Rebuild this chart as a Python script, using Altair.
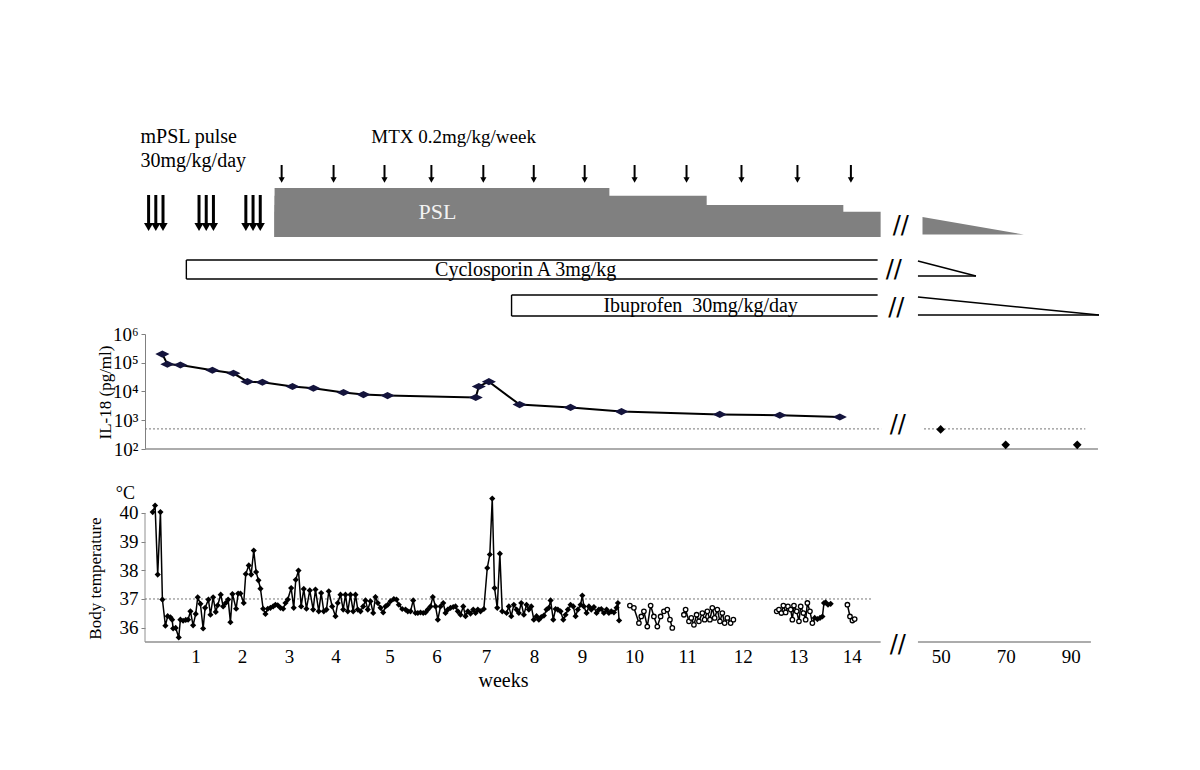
import altair as alt
import pandas as pd

SERIF = "Liberation Serif"
X_DOMAIN = [0, 19]
PLOT_W = 958
FU_ORIGIN, FU_SLOPE = 15.78, 0.0645   # broken axis: follow-up week -> display position


def fu_pos(w):
    return FU_ORIGIN + (w - 50) * FU_SLOPE


# ---------------- treatment schematic ----------------
mpsl_pulse_days = [0.5, 1.5, 2.5, 7.5, 8.5, 9.5, 14, 15, 16]
mtx_weeks = [2.71, 3.74, 4.75, 5.68, 6.71, 7.71, 8.72, 9.71, 10.74, 11.83, 12.94, 14.0]
psl_start = 2.57
psl_step_end = [9.21, 11.14, 13.85, 14.59]
psl_level = [49, 41.2, 32.1, 25.3]
psl_taper_x = [15.42, 17.43]
psl_taper_level = [17.5, 0]
cyclo_start, cyclo_end = 0.82, 14.53
cyclo_taper = [15.33, 16.48]
ibu_start, ibu_end = 7.27, 14.53
ibu_taper = [15.33, 18.92]

# ---------------- IL-18 ----------------
il18_weeks = [0.345, 0.444, 0.702, 1.337, 1.754, 2.032, 2.329, 2.925, 3.341, 3.937, 4.333,
              4.810, 6.56, 6.62, 6.82, 7.43, 8.44, 9.45, 11.40, 12.59, 13.78]
il18_vals = [2.0e5, 8.9e4, 8.4e4, 5.5e4, 4.3e4, 2.2e4, 2.1e4, 1.5e4, 1.3e4, 9.2e3, 7.8e3,
             7.2e3, 6.2e3, 1.5e4, 2.2e4, 3.5e3, 2.8e3, 2.0e3, 1.6e3, 1.5e3, 1.3e3]
il18_fu_weeks = [50, 70, 92]
il18_fu_vals = [480, 140, 140]
il18_ref = 500

# ---------------- body temperature ----------------
tw_main = [0.153, 0.200, 0.252, 0.306, 0.345, 0.405, 0.450, 0.504, 0.538, 0.558,
           0.609, 0.669, 0.702, 0.756, 0.808, 0.855, 0.901, 0.954, 1.006, 1.046,
           1.099, 1.153, 1.192, 1.258, 1.298, 1.351, 1.403, 1.442, 1.502, 1.550,
           1.601, 1.649, 1.694, 1.734, 1.808, 1.847, 1.893, 1.958, 1.998, 2.058,
           2.105, 2.157, 2.204, 2.250, 2.290, 2.343, 2.389, 2.435, 2.488, 2.542,
           2.587, 2.633, 2.687, 2.740, 2.786, 2.831, 2.899, 2.950, 2.990, 3.044,
           3.097, 3.149, 3.202, 3.268,
           3.335, 3.381, 3.446, 3.494, 3.546, 3.599, 3.645, 3.712, 3.778, 3.823,
           3.877, 3.931, 3.976, 4.022, 4.075, 4.129, 4.175, 4.220, 4.274, 4.327,
           4.373, 4.419, 4.472, 4.526, 4.571, 4.617, 4.671, 4.724, 4.770, 4.815,
           4.869, 4.935, 4.988, 5.034, 5.101, 5.167, 5.212, 5.266, 5.319, 5.365,
           5.411, 5.464, 5.518, 5.563, 5.609, 5.663, 5.708, 5.762, 5.808, 5.861,
           5.915, 5.960, 6.006, 6.060, 6.113, 6.159, 6.204, 6.258, 6.312, 6.357,
           6.403, 6.456, 6.510, 6.556, 6.601, 6.655, 6.720,
           6.788, 6.839, 6.887, 6.933, 6.986, 7.038, 7.085,
           7.171, 7.216, 7.264, 7.315, 7.369, 7.415, 7.462, 7.514, 7.567, 7.613,
           7.661, 7.712, 7.766, 7.811, 7.859, 7.911, 7.964, 8.010, 8.044, 8.097,
           8.143, 8.188, 8.242, 8.296, 8.341, 8.387, 8.440, 8.494, 8.540, 8.585,
           8.639, 8.673, 8.704, 8.758, 8.804, 8.851, 8.903, 8.956, 9.002, 9.050,
           9.101, 9.155, 9.200, 9.248, 9.300, 9.353, 9.379, 9.403]
tc_main = [40.03, 40.26, 37.85, 40.03, 36.98, 36.07, 36.40, 36.36, 36.28, 35.97,
           35.99, 35.66, 36.28, 36.24, 36.27, 36.28, 36.57, 36.08, 36.48, 37.06,
           36.83, 35.97, 36.69, 36.98, 36.45, 37.06, 36.55, 36.78, 37.15, 36.74,
           36.86, 36.98, 36.19, 37.17, 36.66, 37.19, 37.19, 36.86, 37.87, 38.17,
           37.85, 38.69, 37.94, 37.65, 37.36, 36.66, 36.48, 36.66, 36.69, 36.74,
           36.80, 36.78, 36.69, 36.66, 36.86, 36.98, 37.38, 36.69, 37.67, 37.99,
           36.74, 37.35, 36.66, 37.30,
           36.63, 37.33, 36.57, 37.21, 36.57, 36.63, 37.27, 36.74, 36.40, 36.86,
           37.15, 36.63, 37.15, 36.57, 37.15, 36.57, 37.15, 36.63, 36.57, 36.74,
           36.95, 36.63, 36.92, 36.51, 37.07, 36.86, 36.69, 36.53, 36.74, 36.80,
           36.92, 37.00, 36.98, 36.80, 36.65, 36.63, 36.57, 36.57, 36.95, 36.51,
           36.51, 36.53, 36.51, 36.53, 36.63, 36.74, 37.07, 36.74, 36.28, 36.74,
           36.86, 36.51, 36.63, 36.69, 36.72, 36.74, 36.57, 36.45, 36.74, 36.40,
           36.57, 36.49, 36.63, 36.51, 36.63, 36.57, 36.65,
           38.08, 38.55, 40.50, 37.38, 36.69, 38.58, 36.57,
           36.51, 36.74, 36.40, 36.80, 36.63, 36.51, 36.86, 36.45, 36.80, 36.63,
           36.74, 36.28, 36.40, 36.28, 36.37, 36.42, 36.63, 36.69, 36.95, 36.28,
           36.65, 36.63, 36.57, 36.28, 36.45, 36.63, 36.80, 36.74, 36.40, 36.63,
           36.80, 37.12, 36.74, 36.51, 36.74, 36.63, 36.72, 36.51, 36.63, 36.65,
           36.51, 36.63, 36.51, 36.57, 36.53, 36.69, 36.86, 36.25]
tw_a = [9.617, 9.696, 9.796, 9.843, 9.895, 9.962, 10.028, 10.093, 10.161, 10.226,
        10.292, 10.359, 10.411, 10.458]
tc_a = [36.77, 36.69, 36.16, 36.39, 36.57, 36.04, 36.77, 36.39, 36.04, 36.39,
        36.57, 36.63, 36.28, 35.99]
tw_b = [10.688, 10.722, 10.788, 10.835, 10.887, 10.940, 10.986, 11.054, 11.099, 11.153,
        11.204, 11.252, 11.298, 11.351, 11.403, 11.450, 11.496, 11.550, 11.615, 11.669]
tc_b = [36.45, 36.63, 36.22, 36.34, 36.10, 36.45, 36.22, 36.51, 36.28, 36.57,
        36.28, 36.69, 36.34, 36.63, 36.22, 36.51, 36.16, 36.34, 36.16, 36.28]
tw_c = [12.528, 12.573, 12.621, 12.661, 12.706, 12.752, 12.806, 12.839, 12.871, 12.925,
        12.970, 13.004, 13.058, 13.103, 13.137, 13.188, 13.236]
tc_c = [36.57, 36.63, 36.51, 36.77, 36.53, 36.74, 36.63, 36.28, 36.77, 36.57,
        36.22, 36.74, 36.51, 36.28, 36.86, 36.57, 36.16]
tw_e = [13.282, 13.335, 13.387, 13.435, 13.466, 13.500, 13.546, 13.599]
tc_e = [36.34, 36.30, 36.34, 36.39, 36.86, 36.88, 36.80, 36.83]
tw_d = [13.931, 13.982, 14.030, 14.075]
tc_d = [36.80, 36.39, 36.25, 36.30]
temp_ref = 37.0

# week labels as placed in the original figure (label k sits at this position)
week_label_at = [1.000, 1.923, 2.855, 3.778, 4.849, 5.782, 6.764, 7.716, 8.669, 9.700,
                 10.752, 11.853, 12.954, 14.016]
fu_ticks = [50, 70, 90]

# ====================================================================
xsc = alt.Scale(domain=X_DOMAIN, nice=False, zero=False)


def XE(field, axis=None):
    return alt.X(field, type="quantitative", scale=xsc, axis=axis, title=None)


def txt(df, yenc, size=19, align="center", color="black", font=SERIF, **kw):
    return alt.Chart(df).mark_text(font=font, fontSize=size, align=align, baseline="middle",
                                   color=color, **kw).encode(x=XE("x"), y=yenc("y"), text="t:N")


# ---------------- panel 1: treatment ----------------
y1sc = alt.Scale(domain=[0, 214], reverse=True, nice=False, zero=False)


def Y1(field):
    return alt.Y(field, type="quantitative", scale=y1sc, axis=None)


PSL_BASE = 117
psl_df = pd.DataFrame({"x": [psl_start] * 4, "x2": psl_step_end,
                       "y": [PSL_BASE - l for l in psl_level], "y2": [PSL_BASE] * 4})
psl = alt.Chart(psl_df).mark_rect(color="#808080").encode(x=XE("x"), x2="x2", y=Y1("y"), y2="y2")

taper_df = pd.DataFrame({"x": psl_taper_x, "y": [PSL_BASE - 2.5 - l for l in psl_taper_level],
                         "y2": [PSL_BASE - 2.5] * 2})
taper = alt.Chart(taper_df).mark_area(color="#808080").encode(x=XE("x"), y=Y1("y"), y2="y2")

mtx_df = pd.DataFrame({"x": mtx_weeks, "y": 45, "y2": 60})
mtx_shaft = alt.Chart(mtx_df).mark_rule(color="black", strokeWidth=2).encode(
    x=XE("x"), y=Y1("y"), y2="y2")
mtx_head = alt.Chart(mtx_df).mark_point(shape="triangle-down", filled=True, size=38,
                                        color="black", opacity=1).encode(x=XE("x"), y=Y1("y2"))

pulse_df = pd.DataFrame({"x": [d / 7 for d in mpsl_pulse_days], "y": 75, "y2": 104, "yh": 107})
pulse_shaft = alt.Chart(pulse_df).mark_rule(color="black", strokeWidth=3).encode(
    x=XE("x"), y=Y1("y"), y2="y2")
pulse_head = alt.Chart(pulse_df).mark_point(shape="triangle-down", filled=True, size=85,
                                            color="black", opacity=1).encode(x=XE("x"), y=Y1("yh"))

seg_rows = [
    (cyclo_start, cyclo_start, 140, 159), (cyclo_start, cyclo_end, 140, 140),
    (cyclo_start, cyclo_end, 159, 159),
    (cyclo_taper[0], cyclo_taper[1], 141, 156), (cyclo_taper[0], cyclo_taper[1], 156, 156),
    (ibu_start, ibu_start, 175, 196), (ibu_start, ibu_end, 175, 175), (ibu_start, ibu_end, 196, 196),
    (ibu_taper[0], ibu_taper[1], 177, 195), (ibu_taper[0], ibu_taper[1], 195, 195),
]
seg_df = pd.DataFrame(seg_rows, columns=["x", "x2", "y", "y2"])
segs = alt.Chart(seg_df).mark_rule(color="black", strokeWidth=1.4).encode(
    x=XE("x"), x2="x2", y=Y1("y"), y2="y2")

t_left = txt(pd.DataFrame({"t": ["mPSL pulse", "30mg/kg/day"], "x": [-0.09, -0.09], "y": [17, 41]}),
             Y1, size=20, align="left")
t_mtx = txt(pd.DataFrame({"t": ["MTX 0.2mg/kg/week"], "x": [6.12], "y": [17]}), Y1, size=19)
t_psl = txt(pd.DataFrame({"t": ["PSL"], "x": [5.8], "y": [92]}), Y1, size=22, color="#f2f2f2")
t_drugs = txt(pd.DataFrame({"t": ["Cyclosporin A 3mg/kg", "Ibuprofen\u00a0 30mg/kg/day"],
                            "x": [7.55, 11.02], "y": [150, 186]}), Y1, size=20)
t_br1 = txt(pd.DataFrame({"t": ["//", "//", "//"], "x": [14.99, 14.85, 14.9], "y": [106, 150, 188]}),
            Y1, size=24, font="DejaVu Sans")

p1 = alt.layer(psl, taper, mtx_shaft, mtx_head, pulse_shaft, pulse_head, segs,
               t_left, t_mtx, t_psl, t_drugs, t_br1).properties(width=PLOT_W, height=214)

# ---------------- panel 2: IL-18 ----------------
sup = "datum.value > 5e5 ? '10⁶' : datum.value > 5e4 ? '10⁵' : datum.value > 5e3 ? '10⁴' : datum.value > 500 ? '10³' : '10²'"
y2axis = alt.Axis(values=[1e2, 1e3, 1e4, 1e5, 1e6], labelExpr=sup, grid=False,
                  domainColor="#808080", tickColor="#808080", tickSize=4, labelPadding=3,
                  labelFontSize=19, title="IL-18 (pg/ml)", titleFontSize=17, titleFontWeight="normal",
                  titleX=-40, titleY=58, titleBaseline="middle", titleAlign="center")
y2sc = alt.Scale(type="log", domain=[100, 1e6], nice=False)


def Y2(field):
    return alt.Y(field, type="quantitative", scale=y2sc, axis=y2axis)


il_df = pd.DataFrame({"x": il18_weeks, "y": il18_vals})
il_line = alt.Chart(il_df).mark_line(color="black", strokeWidth=2).encode(x=XE("x"), y=Y2("y"))
il_pts = alt.Chart(il_df).mark_point(shape="M-1,0L0,-0.5L1,0L0,0.5Z", filled=True, size=200,
                                     color="#14143c", opacity=1).encode(x=XE("x"), y=Y2("y"))
fu_df = pd.DataFrame({"w": il18_fu_weeks, "y": il18_fu_vals})
fu_df["x"] = fu_pos(fu_df["w"])
il_fu = alt.Chart(fu_df).mark_point(shape="diamond", filled=True, size=75, color="black",
                                    opacity=1).encode(x=XE("x"), y=Y2("y"))
ref2_df = pd.DataFrame({"x": [0, 15.45], "x2": [14.6, 18.65], "y": [il18_ref] * 2})
il_ref = alt.Chart(ref2_df).mark_rule(color="#777777", strokeWidth=1, strokeDash=[2, 2]).encode(
    x=XE("x"), x2="x2", y=Y2("y"))
base2_df = pd.DataFrame({"x": [0], "x2": [18.9], "y": [100]})
il_base = alt.Chart(base2_df).mark_rule(color="#909090", strokeWidth=1.3).encode(
    x=XE("x"), x2="x2", y=Y2("y"))
t_br2 = txt(pd.DataFrame({"t": ["//"], "x": [14.93], "y": [684]}), Y2, size=24, font="DejaVu Sans")

p2 = alt.layer(il_base, il_ref, il_line, il_pts, il_fu, t_br2).properties(width=PLOT_W, height=115)

spacer = alt.Chart(pd.DataFrame({"a": [0]})).mark_point(opacity=0).encode(
    x=alt.X("a:Q", axis=None), y=alt.Y("a:Q", axis=None)).properties(width=PLOT_W, height=41)

# ---------------- panel 3: body temperature ----------------
fu_tick_pos = [round(fu_pos(w), 4) for w in fu_ticks]
x3axis = alt.Axis(values=week_label_at + fu_tick_pos,
                  labelExpr=(f"datum.value > 15 ? format(round(50 + (datum.value - {FU_ORIGIN}) / {FU_SLOPE}), 'd')"
                             " : format(round(datum.value), 'd')"),
                  domain=False, ticks=False, grid=False, labelFontSize=19, labelPadding=5,
                  labelOverlap=False, labelFlush=False,
                  title="weeks", titleFontSize=20, titleFontWeight="normal",
                  titleX=358, titleY=28, titleBaseline="top", titleAlign="center")
y3axis = alt.Axis(values=[36, 37, 38, 39, 40], grid=False, domain=False,
                  tickColor="#808080", tickSize=4, labelPadding=3, labelFontSize=19,
                  title="Body temperature", titleFontSize=17, titleFontWeight="normal",
                  titleX=-50, titleY=88, titleBaseline="middle", titleAlign="center")
y3sc = alt.Scale(domain=[35.5, 40.8], nice=False, zero=False)


def X3(field):
    return XE(field, axis=x3axis)


def Y3(field):
    return alt.Y(field, type="quantitative", scale=y3sc, axis=y3axis)


parts = []
for seg, tw, tc, mk in [("main", tw_main, tc_main, "filled"), ("a", tw_a, tc_a, "open"),
                        ("b", tw_b, tc_b, "open"), ("ce", tw_c, tc_c, "open"),
                        ("ce", tw_e, tc_e, "filled"), ("d", tw_d, tc_d, "open")]:
    parts.append(pd.DataFrame({"x": tw, "y": tc, "seg": seg, "marker": mk}))
temp_df = pd.concat(parts, ignore_index=True)

t_line = alt.Chart(temp_df).mark_line(color="black", strokeWidth=1.5).encode(
    x=X3("x"), y=Y3("y"), detail="seg:N")
t_fill = alt.Chart(temp_df).transform_filter(alt.datum.marker == "filled").mark_point(
    shape="diamond", filled=True, size=38, color="black", opacity=1).encode(x=X3("x"), y=Y3("y"))
t_open = alt.Chart(temp_df).transform_filter(alt.datum.marker == "open").mark_point(
    shape="circle", size=20, fill="white", stroke="black", strokeWidth=1.3, opacity=1,
    fillOpacity=1).encode(x=X3("x"), y=Y3("y"))
ref3_df = pd.DataFrame({"x": [0], "x2": [14.4], "y": [temp_ref]})
t_ref = alt.Chart(ref3_df).mark_rule(color="#777777", strokeWidth=1, strokeDash=[2, 2]).encode(
    x=X3("x"), x2="x2", y=Y3("y"))
base3_df = pd.DataFrame({"x": [0, 15.33], "x2": [14.59, 18.76], "y": [35.5, 35.5]})
t_base = alt.Chart(base3_df).mark_rule(color="#909090", strokeWidth=1.3).encode(
    x=X3("x"), x2="x2", y=Y3("y"))
yax3_df = pd.DataFrame({"x": [0], "y": [35.5], "y2": [40.0]})
t_yax = alt.Chart(yax3_df).mark_rule(color="#909090", strokeWidth=1).encode(
    x=X3("x"), y=Y3("y"), y2="y2")
unit_txt = alt.Chart(pd.DataFrame({"t": ["°C"], "x": [-0.39], "y": [40.67]})).mark_text(
    font=SERIF, fontSize=18, align="center", baseline="middle", color="black").encode(
    x=X3("x"), y=Y3("y"), text="t:N")
br3 = alt.Chart(pd.DataFrame({"t": ["//"], "x": [14.93], "y": [35.41]})).mark_text(
    font="DejaVu Sans", fontSize=24, align="center", baseline="middle", color="black").encode(
    x=X3("x"), y=Y3("y"), text="t:N")

p3 = alt.layer(t_base, t_yax, t_ref, t_line, t_fill, t_open, unit_txt, br3).properties(
    width=PLOT_W, height=152)

chart = alt.vconcat(p1, p2, spacer, p3, spacing=0, bounds="flush").properties(
    padding={"left": 78, "top": 112, "right": 5, "bottom": 5}
).configure_view(stroke=None).configure_axis(
    labelFont=SERIF, titleFont=SERIF, labelColor="black", titleColor="black", grid=False)

chart.save("out.html", embed_options={"renderer": "svg", "actions": False})
